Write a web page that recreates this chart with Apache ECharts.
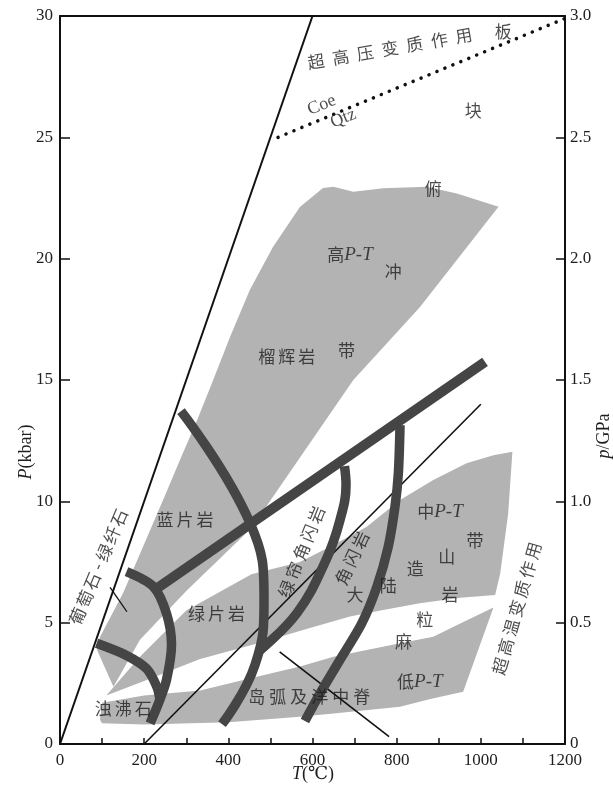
<!DOCTYPE html>
<html><head><meta charset="utf-8">
<script src="https://cdn.jsdelivr.net/npm/echarts@6/dist/echarts.min.js"></script>
<style>html,body{margin:0;padding:0;background:#fff}#c{width:613px;height:788px}</style>
</head><body><div id="c"></div>
<script>
// ---------- data (T in °C, P in kbar) ----------
const regionA = [[127,2.36],[190,4.3],[300,6.3],[455,8.9],[697,15.0],[855,18.0],[1042,22.14],[943,22.69],[871,22.96],[768,22.9],[697,22.76],[650,22.96],[625,22.91],[570,22.13],[506,20.48],[451,18.71],[404,16.77],[364,15.0],[326,13.35],[285,11.7],[250,10.26],[197,8.12],[150,6.22],[95,4.41],[88,3.87]];
const regionB = [[110,2.0],[190,3.6],[300,5.5],[455,7.0],[570,7.5],[650,8.2],[729,8.95],[808,10.05],[887,10.88],[966,11.57],[1030,11.9],[1075,12.04],[1065,9.5],[1046,7.03],[1034,6.14],[951,6.03],[855,5.8],[768,5.52],[689,5.25],[594,4.78],[460,4.1],[333,3.5],[200,2.6]];
const regionC = [[100,1.7],[200,2.0],[333,2.2],[450,2.7],[570,3.19],[650,3.6],[729,3.87],[808,4.15],[887,4.42],[951,4.97],[1030,5.62],[958,2.15],[880,1.85],[808,1.54],[650,1.26],[570,1.12],[400,0.9],[200,0.8],[100,0.85],[95,1.0]];
const geotherm = [[0,0],[600,30]];
const coeQtz = [[518,25],[1200,29.9]];
const lineLong = [[200,0],[1000,14]];
const lineShort = [[522,3.8],[782,0.3]];
const prehniteTick = [[119,6.45],[159,5.45]];
const arc1 = [[87,4.15],[158,3.65],[206,3.1],[230,2.36],[238,1.8]];
const arc2 = [[158,7.1],[222,6.48],[253,5.38],[265,4.1],[253,2.64],[234,1.68],[214,0.85]];
const thickLine = [[225,6.35],[1010,15.75]];
const bigArc = [[287.5,13.72],[451.5,9.11],[484.8,5.93],[463.4,3.26],[385,0.82]];
const curveB = [[470.5,3.79],[563.2,5.4],[632.1,7.58],[665.4,9.23],[679.7,10.68],[676,11.45]];
const curveC = [[808,13.14],[804,11.15],[796,9.78],[780,8.13],[753,6.48],[717,4.97],[665,3.46],[618,2.09],[582,0.95]];
const pressureTicks = [0,5,10,15,20,25,30];
const gpaTicks = [0,0.5,1.0,1.5,2.0,2.5,3.0];
const labels = [
  {t:'超高压变质作用', T:784, P:28.66, rot:10, w:25},
  {t:'板', T:1053, P:29.35},
  {t:'Coe', T:622, P:26.33, rot:22, latin:true},
  {t:'Qtz', T:673, P:25.78, rot:22, latin:true},
  {t:'块', T:982, P:26.12},
  {t:'俯', T:887, P:22.9},
  {t:'高P-T', T:689, P:20.15, pt:true},
  {t:'冲', T:792, P:19.46},
  {t:'榴辉岩', T:539, P:15.96, w:20},
  {t:'带', T:681, P:16.23},
  {t:'蓝片岩', T:297, P:9.23, w:20},
  {t:'绿片岩', T:372, P:5.39, w:20},
  {t:'葡萄石-绿纤石', T:91, P:7.3, rot:67, w:19},
  {t:'浊沸石', T:150, P:1.47, w:20},
  {t:'绿帘角闪岩', T:574, P:7.92, rot:68, w:20},
  {t:'角闪岩', T:694, P:7.66, rot:65, w:20},
  {t:'中P-T', T:903, P:9.57, pt:true},
  {t:'带', T:986, P:8.4},
  {t:'山', T:919, P:7.72},
  {t:'造', T:844, P:7.24},
  {t:'陆', T:780, P:6.55},
  {t:'大', T:701, P:6.14},
  {t:'岩', T:927, P:6.14},
  {t:'粒', T:867, P:5.11},
  {t:'麻', T:816, P:4.22},
  {t:'低P-T', T:855, P:2.57, pt:true},
  {t:'岛弧及洋中脊', T:592, P:1.94, w:21},
  {t:'超高温变质作用', T:1085, P:5.59, rot:74, w:20}
];

// ---------- chart ----------
const SERIF = '"Liberation Serif","DejaVu Serif",serif';
const CJK = '"Noto Sans CJK SC",sans-serif';
const TXT = '#1e1e1e';
const GRAY = '#b3b3b3';
const DARK = '#454545';
const chart = echarts.init(document.getElementById('c'));

function polygon(points){
  return {type:'custom', coordinateSystem:'cartesian2d', silent:true, z:1,
    data:[[points[0][0], points[0][1]]],
    renderItem:(params, api)=>({type:'polygon', shape:{points: points.map(p=>api.coord(p))}, style:{fill:GRAY}})};
}
function line(points, opts){
  return Object.assign({type:'line', data:points, showSymbol:false, symbol:'none', silent:true, z:3,
    lineStyle:{color:'#111', width:1.6}}, opts||{});
}
function thick(points, sm){
  return line(points, {smooth:sm||0.3, z:4, lineStyle:{color:DARK, width:9.5, cap:'butt'}});
}
function labelText(l){
  if (l.pt) return '{c|'+l.t.charAt(0)+'}{i|P-T}';
  if (l.latin) return '{l|'+l.t+'}';
  if (l.w) return l.t.split('').map(ch=> ch==='-' ? '{h|-}' : '{s'+l.w+'|'+ch+'}').join('');
  return '{c|'+l.t+'}';
}
const rich = {
  c:{fontFamily:CJK, fontSize:17, color:TXT},
  i:{fontFamily:SERIF, fontSize:19, fontStyle:'italic', color:TXT},
  l:{fontFamily:SERIF, fontSize:18, color:TXT},
  h:{fontFamily:SERIF, fontSize:17, color:TXT, width:12, align:'center'},
  s19:{fontFamily:CJK, fontSize:17, color:TXT, width:19, align:'center'},
  s20:{fontFamily:CJK, fontSize:17, color:TXT, width:20, align:'center'},
  s21:{fontFamily:CJK, fontSize:17, color:TXT, width:21, align:'center'},
  s25:{fontFamily:CJK, fontSize:17, color:TXT, width:25, align:'center'}
};
const labelSeries = {
  type:'scatter', symbolSize:0, silent:true, z:6,
  data: labels.map(l=>({value:[l.T,l.P], label:{show:true, position:'inside', formatter:labelText(l), rotate:l.rot||0, rich:rich, align:'center', verticalAlign:'middle'}}))
};

const axisLbl = {fontFamily:SERIF, fontSize:17, color:TXT};
const option = {
  animation:false,
  backgroundColor:'#fff',
  grid:{left:60, right:48, top:16, bottom:44, show:false},
  xAxis:[
    {type:'value', min:0, max:1200, interval:100, position:'bottom',
     axisLine:{show:true, lineStyle:{color:'#111', width:2}},
     axisTick:{show:true, inside:true, length:6, lineStyle:{color:'#111', width:1.5}},
     axisLabel:{...axisLbl, margin:8, formatter:v=> v%200===0 ? String(v) : ''},
     splitLine:{show:false}},
    {type:'value', min:0, max:1200, position:'top',
     axisLine:{show:true, onZero:false, lineStyle:{color:'#111', width:2}},
     axisTick:{show:false}, axisLabel:{show:false}, splitLine:{show:false}}
  ],
  yAxis:[
    {type:'value', min:0, max:30, interval:5, position:'left',
     axisLine:{show:true, onZero:false, lineStyle:{color:'#111', width:2}},
     axisTick:{show:true, inside:true, length:10, lineStyle:{color:'#111', width:1.5}},
     axisLabel:{...axisLbl, margin:7, formatter:v=> pressureTicks.includes(v) ? String(v) : ''},
     splitLine:{show:false}},
    {type:'value', min:0, max:3, interval:0.5, position:'right',
     axisLine:{show:true, onZero:false, lineStyle:{color:'#111', width:2}},
     axisTick:{show:true, inside:true, length:9, lineStyle:{color:'#111', width:1.5}},
     axisLabel:{...axisLbl, margin:5, formatter:v=> v===0 ? '0' : v.toFixed(1)},
     splitLine:{show:false}}
  ],
  graphic:[
    {type:'text', x:26, y:452, rotation:Math.PI/2, style:{text:'{i|P}{n|(kbar)}', align:'center', verticalAlign:'middle',
      rich:{i:{fontFamily:SERIF, fontSize:18, fontStyle:'italic', fill:TXT}, n:{fontFamily:SERIF, fontSize:18, fill:TXT}}}},
    {type:'text', x:604, y:436, rotation:Math.PI/2, style:{text:'{i|p}{n|/GPa}', align:'center', verticalAlign:'middle',
      rich:{i:{fontFamily:SERIF, fontSize:18, fontStyle:'italic', fill:TXT}, n:{fontFamily:SERIF, fontSize:18, fill:TXT}}}},
    {type:'text', x:313, y:774, style:{text:'{i|T}{n|(℃)}', align:'center', verticalAlign:'middle',
      rich:{i:{fontFamily:SERIF, fontSize:18, fontStyle:'italic', fill:TXT}, n:{fontFamily:SERIF, fontSize:18, fill:TXT}}}}
  ],
  series:[
    polygon(regionA), polygon(regionB), polygon(regionC),
    line(geotherm, {lineStyle:{color:'#111', width:2}}),
    line(coeQtz, {lineStyle:{color:'#111', width:3.5, type:[0.1,8.5], cap:'round'}}),
    line(lineLong), line(lineShort), line(prehniteTick, {lineStyle:{color:'#111', width:1.3}}),
    thick(arc1), thick(arc2), line(thickLine, {z:4, lineStyle:{color:DARK, width:10, cap:'butt'}}),
    thick(bigArc, 0.45), thick(curveB, 0.4), thick(curveC),
    labelSeries
  ]
};
chart.setOption(option);
</script></body></html>
